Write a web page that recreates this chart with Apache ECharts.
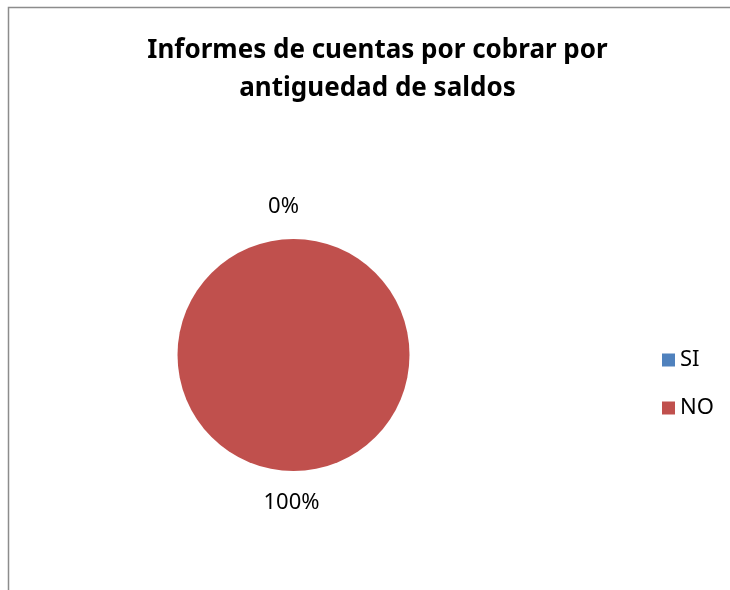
<!DOCTYPE html>
<html>
<head>
<meta charset="utf-8">
<style>
  html, body { margin: 0; padding: 0; background: #ffffff; }
  #chart { width: 730px; height: 590px; }
</style>
<script src="https://cdn.jsdelivr.net/npm/echarts@6/dist/echarts.min.js"></script>
</head>
<body>
<div id="chart"></div>
<script>
// Answers to the question: does the company receive aged receivables reports?
const categories = ['SI', 'NO'];
const counts = [0, 100];
const sliceColors = ['#4F81BD', '#C0504D'];
const titleText = 'Informes de cuentas por cobrar por\nantiguedad de saldos';

const FONT = '"Noto Sans", "Open Sans", sans-serif';

const chart = echarts.init(document.getElementById('chart'), null, { renderer: 'canvas' });

const pieData = categories.map((name, i) => ({
  name: name,
  value: counts[i],
  itemStyle: { color: sliceColors[i] }
}));

chart.setOption({
  backgroundColor: '#ffffff',
  animation: false,
  title: {
    text: titleText,
    left: 377.5,
    top: 32,
    padding: 0,
    textAlign: 'center',
    textStyle: {
      fontFamily: FONT,
      fontWeight: 'bold',
      fontSize: 26,
      lineHeight: 38,
      color: '#000000'
    }
  },
  legend: {
    orient: 'vertical',
    left: 657,
    top: 344,
    itemWidth: 13,
    itemHeight: 13,
    itemGap: 26,
    icon: 'rect',
    data: categories,
    textStyle: { fontFamily: FONT, fontSize: 22, color: '#000000' }
  },
  // chart-area frame
  graphic: [{
    type: 'rect',
    shape: { x: 8.5, y: 7.5, width: 760, height: 620 },
    style: { fill: null, stroke: '#8c8c8c', lineWidth: 1.5 },
    silent: true
  }],
  series: [{
    type: 'pie',
    center: [293.5, 355],
    radius: 116,
    startAngle: 90,
    clockwise: true,
    avoidLabelOverlap: false,
    stillShowZeroSum: true,
    data: pieData,
    label: {
      show: true,
      position: 'outside',
      formatter: p => Math.round(p.percent) + '%',
      fontFamily: FONT,
      fontSize: 22,
      color: '#000000'
    },
    labelLine: { show: false, length: 32, length2: 0 },
    labelLayout: p => ({
      align: 'center',
      verticalAlign: 'middle',
      dx: p.dataIndex === 0 ? -5 : 3
    }),
    emphasis: { disabled: true }
  }]
});
</script>
</body>
</html>
